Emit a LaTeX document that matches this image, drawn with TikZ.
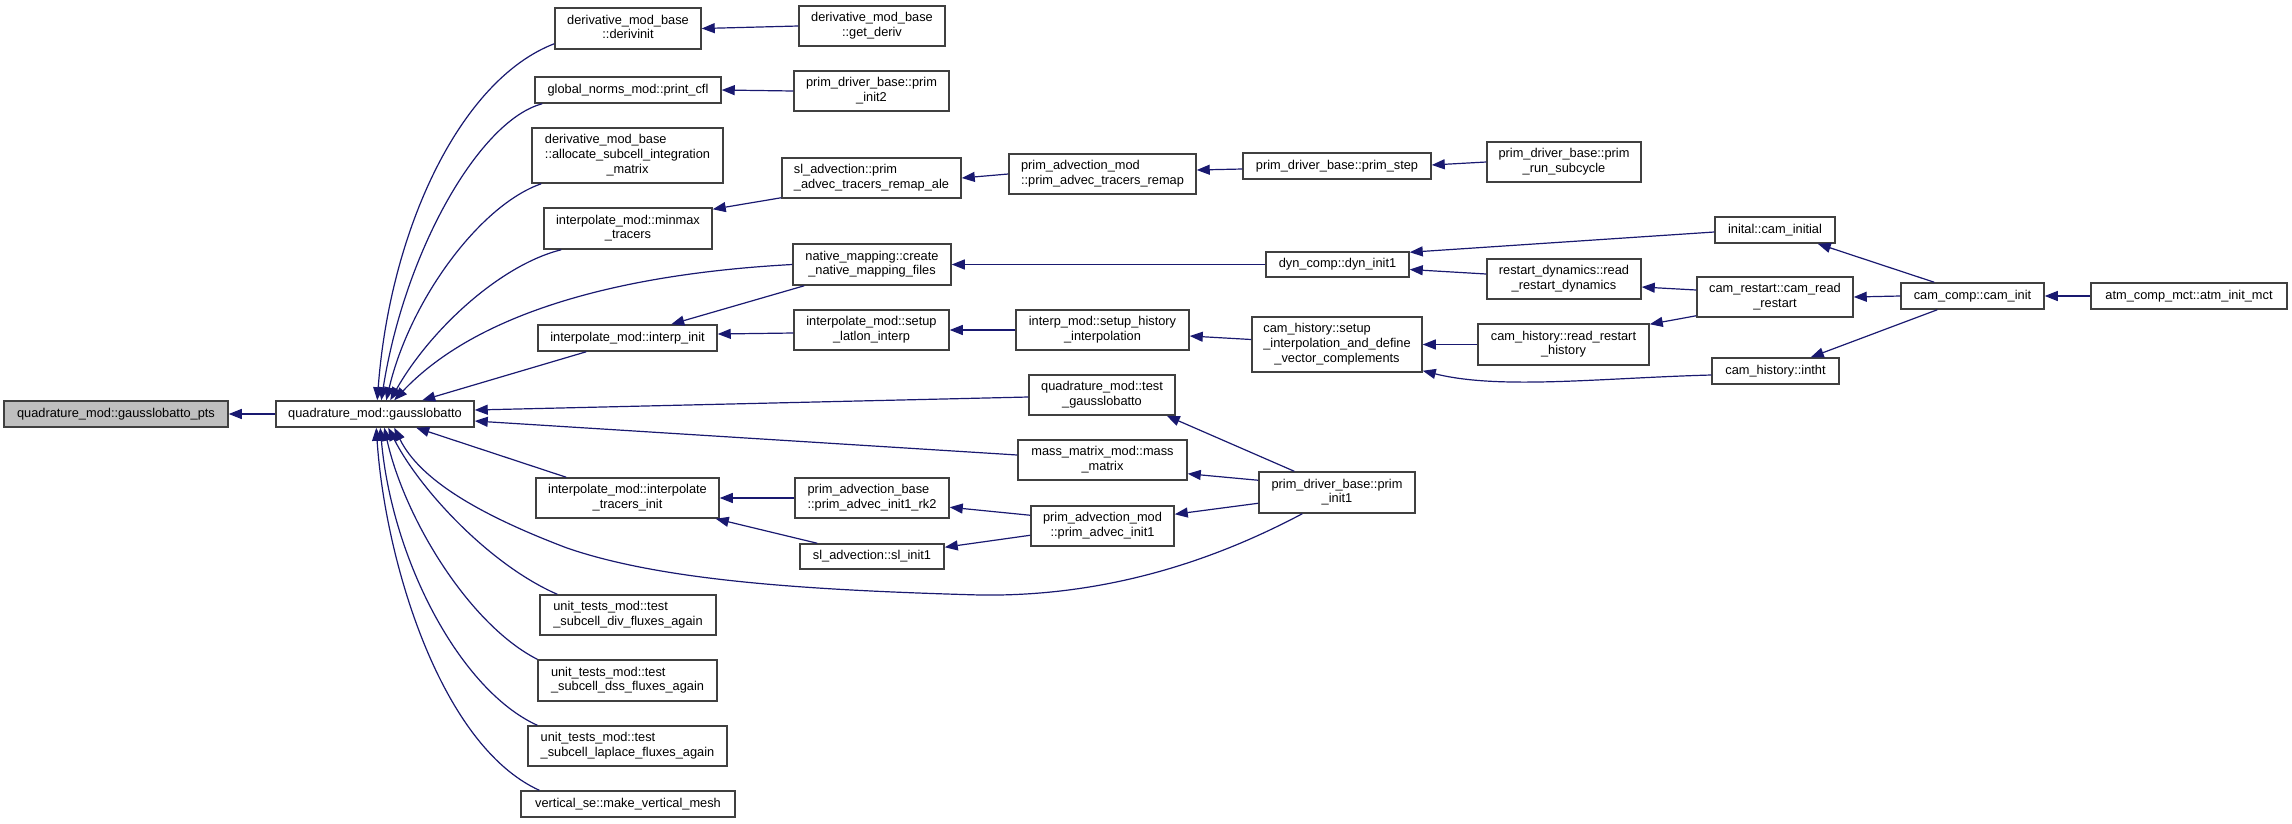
\documentclass[tikz,border=0pt]{standalone}
\usepackage{fontspec}
\setmainfont{Liberation Sans}
\usetikzlibrary{arrows.meta,calc}
\definecolor{edgeblue}{HTML}{191970}
\definecolor{boxline}{HTML}{404040}
\definecolor{focusgrey}{HTML}{BFBFBF}
\newcommand\TwoL[2]{\begin{tabular}{@{}l@{}}#1\\\multicolumn{1}{@{}c@{}}{#2}\end{tabular}}
\newcommand\ThreeL[3]{\begin{tabular}{@{}l@{}}#1\\#2\\\multicolumn{1}{@{}c@{}}{#3}\end{tabular}}
\newcommand\bx[7][]{\node[box,#1,minimum width={#5-#3},minimum height={#6-#4}] (#2) at ({(#3+#5)/2},{(#4+#6)/2}) {#7};}
\begin{document}
\begin{tikzpicture}[x=1pt,y=-1pt,
  box/.style={draw=boxline,line width=1.5pt,fill=white,inner sep=0pt,font=\fontsize{12.8}{14.8}\selectfont},
  edge/.style={draw=edgeblue,line width=1.2pt,-{Triangle[length=13pt,width=10pt]}}]
\fill[white] (0,0) rectangle (2292,823);
\useasboundingbox (0,0) rectangle (2292,823);
% nodes
\bx[fill=focusgrey]{pts}{4}{401}{228}{427}{quadrature\_mod::gausslobatto\_pts}
\bx{gl}{276}{401}{474}{427}{quadrature\_mod::gausslobatto}
\bx{derivinit}{555}{8}{701}{49}{\TwoL{derivative\_mod\_base}{::derivinit}}
\bx{getderiv}{799}{6}{945}{46}{\TwoL{derivative\_mod\_base}{::get\_deriv}}
\bx{printcfl}{535}{77}{721}{103}{global\_norms\_mod::print\_cfl}
\bx{init2}{794}{71}{949}{111}{\TwoL{prim\_driver\_base::prim}{\_init2}}
\bx{alloc}{532}{128}{723}{183}{\ThreeL{derivative\_mod\_base}{::allocate\_subcell\_integration}{\_matrix}}
\bx{minmax}{544}{208}{712}{249}{\TwoL{interpolate\_mod::minmax}{\_tracers}}
\bx{remapale}{782}{158}{961}{198}{\TwoL{sl\_advection::prim}{\_advec\_tracers\_remap\_ale}}
\bx{remap}{1009}{154}{1196}{194}{\TwoL{prim\_advection\_mod}{::prim\_advec\_tracers\_remap}}
\bx{primstep}{1243}{153}{1431}{179}{prim\_driver\_base::prim\_step}
\bx{subcycle}{1487}{142}{1641}{182}{\TwoL{prim\_driver\_base::prim}{\_run\_subcycle}}
\bx{create}{793}{244}{951}{285}{\TwoL{native\_mapping::create}{\_native\_mapping\_files}}
\bx{interpinit}{538}{325}{717}{351}{interpolate\_mod::interp\_init}
\bx{latlon}{794}{310}{949}{350}{\TwoL{interpolate\_mod::setup}{\_latlon\_interp}}
\bx{histinterp}{1016}{310}{1189}{350}{\TwoL{interp\_mod::setup\_history}{\_interpolation}}
\bx{camsetup}{1252}{317}{1422}{372}{\ThreeL{cam\_history::setup}{\_interpolation\_and\_define}{\_vector\_complements}}
\bx{dyninit}{1266}{252}{1409}{277}{dyn\_comp::dyn\_init1}
\bx{caminitial}{1715}{217}{1835}{243}{inital::cam\_initial}
\bx{readdyn}{1487}{259}{1641}{299}{\TwoL{restart\_dynamics::read}{\_restart\_dynamics}}
\bx{camread}{1697}{277}{1853}{317}{\TwoL{cam\_restart::cam\_read}{\_restart}}
\bx{readhist}{1478}{324}{1649}{365}{\TwoL{cam\_history::read\_restart}{\_history}}
\bx{intht}{1712}{358}{1839}{384}{cam\_history::intht}
\bx{caminit}{1901}{283}{2044}{309}{cam\_comp::cam\_init}
\bx{atm}{2091}{283}{2287}{309}{atm\_comp\_mct::atm\_init\_mct}
\bx{testgl}{1029}{375}{1175}{415}{\TwoL{quadrature\_mod::test}{\_gausslobatto}}
\bx{massm}{1018}{440}{1187}{480}{\TwoL{mass\_matrix\_mod::mass}{\_matrix}}
\bx{init1}{1259}{472}{1415}{513}{\TwoL{prim\_driver\_base::prim}{\_init1}}
\bx{advinit1}{1031}{506}{1174}{546}{\TwoL{prim\_advection\_mod}{::prim\_advec\_init1}}
\bx{tracinit}{536}{478}{719}{518}{\TwoL{interpolate\_mod::interpolate}{\_tracers\_init}}
\bx{rk2}{795}{478}{949}{518}{\TwoL{prim\_advection\_base}{::prim\_advec\_init1\_rk2}}
\bx{slinit1}{800}{544}{944}{569}{sl\_advection::sl\_init1}
\bx{tdiv}{540}{595}{716}{635}{\TwoL{unit\_tests\_mod::test}{\_subcell\_div\_fluxes\_again}}
\bx{tdss}{538}{660}{717}{701}{\TwoL{unit\_tests\_mod::test}{\_subcell\_dss\_fluxes\_again}}
\bx{tlap}{528}{726}{727}{766}{\TwoL{unit\_tests\_mod::test}{\_subcell\_laplace\_fluxes\_again}}
\bx{vmesh}{521}{791}{735}{817}{vertical\_se::make\_vertical\_mesh}
% edges into gausslobatto
\draw[edge] (gl.west) -- (pts.east);
\draw[edge] ($(derivinit.south west)+(0,-6)$) .. controls (460,80) and (390,230) .. ($(gl.north west)+(102,0)$);
\draw[edge] ($(printcfl.south west)+(8,0)$) .. controls (480,120) and (405,250) .. ($(gl.north west)+(106,0)$);
\draw[edge] ($(alloc.south west)+(10,0)$) .. controls (480,205) and (410,300) .. ($(gl.north west)+(111,0)$);
\draw[edge] ($(minmax.south west)+(18,0)$) .. controls (500,265) and (430,330) .. ($(gl.north west)+(115,0)$);
\draw[edge] (create.west) .. controls (600,275) and (470,320) .. ($(gl.north west)+(119,0)$);
\draw[edge] ($(interpinit.south west)+(49,0)$) -- ($(gl.north west)+(147,0)$);
\draw[edge] ($(testgl.west)+(0,2)$) -- ($(gl.east)+(0,-4)$);
\draw[edge] ($(massm.west)+(0,-5)$) -- ($(gl.east)+(0,7)$);
\draw[edge] ($(tracinit.north west)+(31,0)$) -- ($(gl.south west)+(141,0)$);
\draw[edge] ($(init1.south west)+(44,0)$) .. controls (1230,552) and (1120,597) .. (980,595)
  .. controls (800,590) and (660,580) .. (567,548)
  .. controls (480,515) and (420,480) .. ($(gl.south west)+(119,0)$);
\draw[edge] ($(tdiv.north west)+(18,0)$) .. controls (490,565) and (420,490) .. ($(gl.south west)+(113,0)$);
\draw[edge] (tdss.north west) .. controls (470,625) and (405,520) .. ($(gl.south west)+(109,0)$);
\draw[edge] ($(tlap.north west)+(10,0)$) .. controls (460,690) and (392,560) .. ($(gl.south west)+(105,0)$);
\draw[edge] ($(vmesh.north west)+(19,0)$) .. controls (440,745) and (385,560) .. ($(gl.south west)+(101,0)$);
% other edges
\draw[edge] (getderiv.west) -- (derivinit.east);
\draw[edge] (init2.west) -- (printcfl.east);
\draw[edge] ($(remapale.south west)+(0,-1)$) -- ($(minmax.north east)+(0,2)$);
\draw[edge] (remap.west) -- (remapale.east);
\draw[edge] ($(primstep.west)+(0,3)$) -- ($(remap.east)+(0,-4)$);
\draw[edge] (subcycle.west) -- ($(primstep.east)+(0,-1)$);
\draw[edge] (dyninit.west) -- (create.east);
\draw[edge] ($(create.south west)+(12,0)$) -- ($(interpinit.north west)+(134,0)$);
\draw[edge] ($(latlon.west)+(0,3)$) -- ($(interpinit.east)+(0,-4)$);
\draw[edge] (histinterp.west) -- (latlon.east);
\draw[edge] ($(camsetup.west)+(0,-5)$) -- ($(histinterp.east)+(0,6)$);
\draw[edge] ($(caminitial.west)+(0,2)$) -- ($(dyninit.north east)+(0,1)$);
\draw[edge] ($(readdyn.west)+(0,-5)$) -- ($(dyninit.east)+(0,5)$);
\draw[edge] ($(camread.west)+(0,-7)$) -- ($(readdyn.east)+(0,8)$);
\draw[edge] ($(camread.south west)+(0,-2)$) -- ($(readhist.north east)+(0,1)$);
\draw[edge] (readhist.west) -- (camsetup.east);
\draw[edge] ($(intht.west)+(0,4)$) .. controls (1600,378) and (1500,390) .. ($(camsetup.south east)+(0,-2)$);
\draw[edge] ($(caminit.north west)+(34,0)$) -- ($(caminitial.south east)+(-18,0)$);
\draw[edge] (caminit.west) -- (camread.east);
\draw[edge] ($(caminit.south west)+(37,0)$) -- ($(intht.north east)+(-29,0)$);
\draw[edge] (atm.west) -- (caminit.east);
\draw[edge] ($(init1.north west)+(36,0)$) -- ($(testgl.south east)+(-9,0)$);
\draw[edge] ($(init1.north west)+(0,9)$) -- ($(massm.south east)+(0,-7)$);
\draw[edge] ($(init1.north west)+(0,32)$) -- ($(advinit1.north east)+(0,9)$);
\draw[edge] ($(advinit1.north west)+(0,10)$) -- ($(rk2.north east)+(0,30)$);
\draw[edge] ($(advinit1.north west)+(0,30)$) -- ($(slinit1.north east)+(0,4)$);
\draw[edge] (rk2.west) -- (tracinit.east);
\draw[edge] ($(slinit1.north west)+(18,0)$) -- ($(tracinit.south east)+(-4,0)$);
\end{tikzpicture}
\end{document}
